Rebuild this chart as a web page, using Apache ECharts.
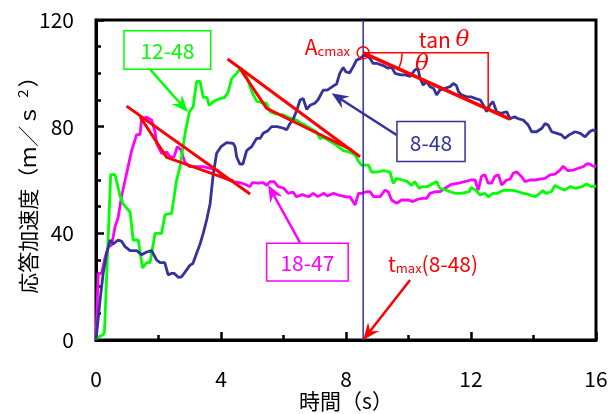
<!DOCTYPE html>
<html><head><meta charset="utf-8">
<script src="https://cdn.jsdelivr.net/npm/echarts@6/dist/echarts.min.js"></script>
<style>html,body{margin:0;padding:0;background:#fff}#c{width:611px;height:414px}</style>
</head><body><div id="c"></div>
<script>
// ---- axis ticks ----
const xTicks = [0, 4, 8, 12, 16];
const yTicks = [0, 40, 80, 120];

// ---- series 12-48 (green) ----
const t12_48 = [0,0.02,0.23,0.27,0.47,0.61,0.77,0.87,1.09,1.19,1.35,1.49,1.62,1.73,1.89,2.1,2.21,2.42,2.58,2.69,2.85,2.99,3.11,3.22,3.33,3.43,3.55,3.62,3.72,3.85,4.0,4.12,4.23,4.34,4.5,4.63,4.82,4.93,5.03,5.15,5.35,5.46,5.57,5.75,6.0,6.15,6.3,6.42,6.53,6.63,6.85,7.06,7.17,7.27,7.5,7.7,7.91,8.1,8.29,8.4,8.5,8.72,8.82,9.0,9.2,9.41,9.51,9.62,9.8,9.95,10.1,10.2,10.34,10.45,10.6,10.8,10.9,11.0,11.2,11.33,11.5,11.7,11.95,12.0,12.15,12.29,12.45,12.55,12.7,12.85,13.0,13.2,13.4,13.62,13.83,14.05,14.2,14.3,14.4,14.57,14.69,14.85,15.0,15.17,15.33,15.55,15.7,15.86,16];
const a12_48 = [0,0.8,2,3,62,62,54,51,48,37.5,37.5,27,29,29,40,40,47,47.5,60,65,77.5,85.6,87.5,97,97,91,91,88,89,90,90.6,91,93,98,100,102,98.8,95,92,89.5,89,88.7,85.6,84.8,84.4,83.5,83,82.5,81.5,81,79.4,78,75.5,76,74.5,73,71,70.5,69.5,67,65.6,65.6,63,63,63.5,63,58.7,60.6,60,59.5,58,59.4,56.9,57.5,57.5,58.8,59.4,56.9,56.2,55.6,55,55,55.6,57.2,56.2,54.4,55,53.7,55,55,56,56.2,56,55.2,54.6,53.7,55,56,55,55.6,58,56.9,56.2,57.5,56.9,57.5,58.5,57.5,57.7];

// ---- series 18-47 (magenta) ----
const t18_47 = [0,0.07,0.18,0.29,0.4,0.5,0.61,0.71,0.82,0.98,1.14,1.3,1.41,1.46,1.62,1.78,1.89,1.94,2.1,2.26,2.37,2.5,2.6,2.71,2.85,3.0,3.3,3.43,3.65,3.9,4.07,4.39,4.6,4.75,4.93,5.0,5.2,5.35,5.46,5.57,5.7,5.83,6.0,6.15,6.3,6.42,6.6,6.8,6.95,7.1,7.3,7.4,7.6,7.8,8.0,8.13,8.29,8.4,8.5,8.66,8.77,8.88,9.09,9.25,9.35,9.46,9.62,9.78,10.0,10.14,10.3,10.46,10.58,10.69,10.85,11.0,11.17,11.38,11.6,11.8,12.0,12.13,12.23,12.34,12.45,12.55,12.66,12.77,12.88,12.98,13.14,13.25,13.35,13.46,13.62,13.73,13.89,14.05,14.2,14.37,14.53,14.69,14.85,14.95,15.1,15.27,15.43,15.6,15.7,15.8,15.9,16];
const a18_47 = [0,25,25,31,35,35.5,42.5,46,54,62.5,71,77,77,83,83.5,82.5,78,73.7,70,70.5,68.7,68.7,72.5,71.5,66.5,65,65,65,64.4,63.5,61,59.4,59,58.5,57.5,59,58.8,59,58,59.4,59.4,57.5,57,55,55.5,53.7,54.5,53.7,55,53.8,55,54,55,54.2,53.7,53.7,50.6,55,55,55.6,55.6,53.8,53.8,56.2,55.6,52.5,51.2,52.5,52.5,51.9,52.8,53.1,53.1,55,55.6,55.6,56.9,58.4,58.8,59.4,60,60,56.2,61.5,61.9,58.8,58.8,61.5,61.9,58.1,60,60.3,62.5,63.1,61.2,59.4,60,60,60.3,60.6,61.9,62.2,63.7,65.2,63.5,63.7,64.4,65,66,66,65.2,65.2];

// ---- series 8-48 (navy) ----
const t8_48 = [0,0.13,0.23,0.34,0.45,0.55,0.71,0.82,0.93,1.09,1.3,1.46,1.62,1.78,1.94,2.05,2.2,2.31,2.42,2.5,2.63,2.74,2.9,3.0,3.1,3.22,3.33,3.43,3.54,3.65,3.75,3.86,4.0,4.18,4.39,4.45,4.5,4.6,4.7,4.82,4.98,5.14,5.25,5.35,5.5,5.62,5.8,6.0,6.1,6.2,6.3,6.42,6.53,6.63,6.74,6.85,7.0,7.1,7.27,7.4,7.6,7.7,7.8,7.91,8.0,8.12,8.23,8.34,8.45,8.6,8.77,8.87,9.0,9.17,9.35,9.45,9.57,9.75,9.9,10.05,10.2,10.3,10.37,10.47,10.58,10.69,10.8,10.9,11.0,11.17,11.33,11.43,11.53,11.6,11.7,11.86,12.0,12.13,12.3,12.4,12.5,12.6,12.7,12.82,12.95,13.14,13.25,13.4,13.5,13.67,13.83,13.94,14.1,14.27,14.37,14.47,14.58,14.75,14.9,15.0,15.15,15.33,15.5,15.65,15.8,15.9,16.0];
const a8_48 = [0,15,25,32.5,37.5,36,37.5,37,35,33.5,33.5,32,33,33.5,30,29,29,24.4,25,25,23.5,23.7,26.3,28,28.7,32.5,36,40,45,51,62,70,72.5,74,73.7,72.5,68.7,66,66,71,72.5,75.6,75.6,77.5,78.5,80,80,79.4,78.8,81,82.5,86,90,90.6,86.5,88,88.8,90,93.7,93.7,95.3,96,100,102.2,100.5,100.2,102.5,105,105.5,107,105.6,103.7,103.7,103,101.9,102.5,100,99.4,99.4,98.8,101.2,101.9,98.1,95.6,96.9,95,94.4,91.9,93.7,94.4,95,96.2,95.5,93.1,91.9,91.2,91.2,90.6,90,88,85.6,88.1,89.4,85.6,85,85.6,83,83.7,83,82.5,80.6,78.1,78.1,79.4,81.2,80.6,78.1,77.5,76.9,75.6,77,78.1,77.5,76.2,78.1,78.8,78.1];

// ---- annotation values (data units) ----
const tMax = 8.55, aCmax = 107.7;
const slopeEnd = [13.25, 82.8];
const tanCornerX = 12.55;
const tri1Line = [[0.98, 87.7], [4.93, 54.75]];
const tri1V = [[1.41, 83.7], [2.26, 68.5], [4.39, 59.6]];
const tri2Line = [[4.21, 105.4], [8.45, 68.7]];
const tri2V = [[4.6, 101.9], [5.46, 86.9], [8.18, 71.25]];

const zip = (t, a) => t.map((v, i) => [v, a[i]]);
const FONT = '"Noto Sans CJK JP", "Noto Sans", sans-serif';
const GREEN = '#00ff00', MAG = '#ff00ff', NAVY = '#333399', RED = '#ff0000';

function renderAnn(params, api) {
  const P = (x, y) => api.coord([x, y]);
  const ch = [];
  const poly = (pts, color, w) => ch.push({type: 'polyline', shape: {points: pts.map(p => P(p[0], p[1]))}, style: {stroke: color, lineWidth: w, fill: null}});
  const arrow = (from, to, color, w) => {
    const a = P(from[0], from[1]), b = P(to[0], to[1]);
    const ang = Math.atan2(b[1] - a[1], b[0] - a[0]);
    const L = 17, W = 7;
    const c = Math.cos(ang), s = Math.sin(ang);
    const base = [b[0] - L * c, b[1] - L * s];
    const notch = [b[0] - L * 0.65 * c, b[1] - L * 0.65 * s];
    ch.push({type: 'line', shape: {x1: a[0], y1: a[1], x2: notch[0], y2: notch[1]}, style: {stroke: color, lineWidth: w}});
    ch.push({type: 'polygon', shape: {points: [b, [base[0] - s * W, base[1] + c * W], notch, [base[0] + s * W, base[1] - c * W]]}, style: {fill: color}});
  };
  const box = (x0, y0, x1, y1, color, text) => {
    const p0 = P(x0, y0), p1 = P(x1, y1);
    ch.push({type: 'rect', shape: {x: p0[0], y: p0[1], width: p1[0] - p0[0], height: p1[1] - p0[1]}, style: {fill: '#fff', stroke: color, lineWidth: 1.5}});
    ch.push({type: 'text', x: (p0[0] + p1[0]) / 2, y: (p0[1] + p1[1]) / 2 + 1, style: {text: text, fill: color, fontSize: 21, fontFamily: FONT, align: 'center', verticalAlign: 'middle'}});
  };
  // vertical navy line at t_max
  poly([[tMax, 0], [tMax, 120]], NAVY, 1.5);
  // red triangles
  poly(tri1Line, RED, 3);
  poly(tri1V, RED, 3);
  poly(tri2Line, RED, 3);
  poly(tri2V, RED, 3);
  // slope line + tan construction
  poly([[tMax, aCmax], slopeEnd], RED, 3.5);
  poly([[tMax, aCmax], [tanCornerX, aCmax], [tanCornerX, aCmax - (aCmax - slopeEnd[1]) * (tanCornerX - tMax) / (slopeEnd[0] - tMax)]], RED, 1.5);
  const pc = P(tMax, aCmax), pe = P(slopeEnd[0], slopeEnd[1]);
  ch.push({type: 'circle', shape: {cx: pc[0], cy: pc[1], r: 6}, style: {fill: null, stroke: RED, lineWidth: 1.5}});
  const ang = Math.atan2(pe[1] - pc[1], pe[0] - pc[0]);
  ch.push({type: 'arc', shape: {cx: pc[0], cy: pc[1], r: 39, startAngle: 0.02, endAngle: ang, clockwise: true}, style: {stroke: RED, lineWidth: 1.5, fill: null}});
  // labels
  const pA = P(8.13, 110.6);
  ch.push({type: 'text', x: pA[0], y: pA[1], style: {text: '{a|A}{b|cmax}', align: 'right', verticalAlign: 'middle', rich: {a: {fontSize: 21, fontFamily: FONT, fill: RED, verticalAlign: 'bottom', lineHeight: 24}, b: {fontSize: 13, fontFamily: FONT, fill: RED, verticalAlign: 'bottom', lineHeight: 16}}}});
  const pT = P(11.14, 112.6);
  ch.push({type: 'text', x: pT[0], y: pT[1], style: {text: '{a|tan }{b|θ}', align: 'center', verticalAlign: 'middle', rich: {a: {fontSize: 21, fontFamily: FONT, fill: RED}, b: {fontSize: 23, fontFamily: 'DejaVu Serif', fontStyle: 'italic', fill: RED}}}});
  const pTh = P(10.43, 103.5);
  ch.push({type: 'text', x: pTh[0], y: pTh[1], style: {text: 'θ', fill: RED, fontSize: 23, fontFamily: 'DejaVu Serif', fontStyle: 'italic', align: 'center', verticalAlign: 'middle'}});
  const pM = P(9.34, 28.9);
  ch.push({type: 'text', x: pM[0], y: pM[1], style: {text: '{a|t}{b|max}{a|(8-48)}', align: 'left', verticalAlign: 'middle', rich: {a: {fontSize: 21, fontFamily: FONT, fill: RED, verticalAlign: 'bottom', lineHeight: 24}, b: {fontSize: 13, fontFamily: FONT, fill: RED, verticalAlign: 'bottom', lineHeight: 14}}}});
  // arrows
  arrow([10.05, 22.5], [tMax, 0], RED, 2.5);
  arrow([1.66, 102.4], [2.94, 85.5], GREEN, 2.5);
  arrow([9.62, 76.9], [7.54, 92.5], NAVY, 2.5);
  arrow([6.53, 36.5], [5.51, 58.1], MAG, 2.5);
  // label boxes
  box(0.896, 116, 3.67, 101.5, GREEN, '12-48');
  box(9.63, 81.9, 11.81, 66.9, NAVY, '8-48');
  box(5.46, 36.3, 8.07, 22.1, MAG, '18-47');
  return {type: 'group', children: ch};
}

const chart = echarts.init(document.getElementById('c'), null, {renderer: 'canvas'});
const axisCommon = {
  axisLine: {show: true, lineStyle: {color: '#000', width: 3}},
  axisTick: {show: true, inside: true, length: 8, lineStyle: {color: '#000', width: 2.5}},
  splitLine: {show: false},
  axisLabel: {color: '#000', fontSize: 21, fontFamily: FONT},
  nameTextStyle: {color: '#000', fontSize: 21, fontFamily: FONT}
};
chart.setOption({
  animation: false,
  backgroundColor: '#fff',
  grid: {left: 96, right: 15, top: 20, bottom: 74, show: true, borderColor: '#000', borderWidth: 3, containLabel: false, outerBoundsMode: 'none'},
  xAxis: Object.assign({}, axisCommon, {
    type: 'value', min: xTicks[0], max: xTicks[xTicks.length - 1], interval: xTicks[1] - xTicks[0],
    minorTick: {show: true, splitNumber: 2, length: 5, lineStyle: {color: '#000', width: 2.5}},
    axisLabel: Object.assign({}, axisCommon.axisLabel, {margin: 29}),
    name: '時間（s）', nameLocation: 'middle', nameGap: 51, nameMoveOverlap: false
  }),
  yAxis: Object.assign({}, axisCommon, {
    type: 'value', min: yTicks[0], max: yTicks[yTicks.length - 1], interval: yTicks[1] - yTicks[0],
    minorTick: {show: true, splitNumber: 4, length: 5, lineStyle: {color: '#000', width: 2.5}},
    axisLabel: Object.assign({}, axisCommon.axisLabel, {margin: 22}),
    name: '応答加速度（ｍ／ｓ {sup|２}）', nameLocation: 'middle', nameGap: 56, nameRotate: 90, nameMoveOverlap: false,
    nameTextStyle: {color: '#000', fontSize: 21, fontFamily: FONT, rich: {sup: {fontSize: 13, fontFamily: FONT, color: '#000', verticalAlign: 'top', padding: [0, 0, 10, 0]}}}
  }),
  series: [
    {type: 'line', name: '18-47', data: zip(t18_47, a18_47), showSymbol: false, lineStyle: {color: MAG, width: 2.8}, z: 2},
    {type: 'line', name: '12-48', data: zip(t12_48, a12_48), showSymbol: false, lineStyle: {color: GREEN, width: 2.8}, z: 2},
    {type: 'line', name: '8-48', data: zip(t8_48, a8_48), showSymbol: false, lineStyle: {color: NAVY, width: 2.8}, z: 2},
    {type: 'custom', data: [[0, 0]], renderItem: renderAnn, clip: false, silent: true, z: 5}
  ]
});
</script></body></html>
